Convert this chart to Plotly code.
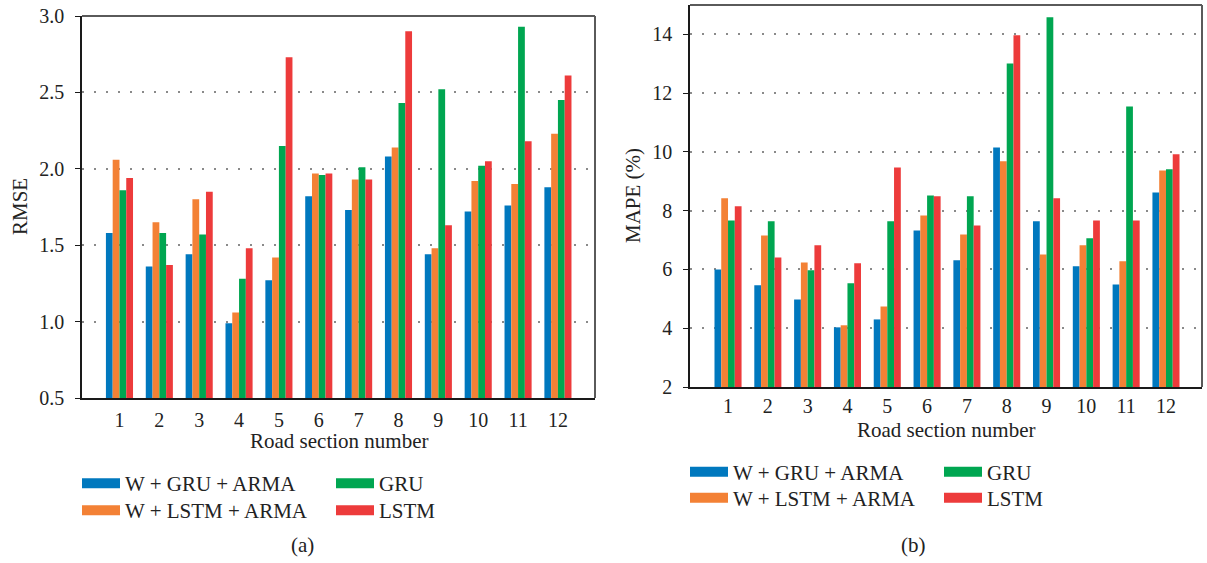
import plotly.graph_objects as go

W, H = 1207, 563

roads = [str(i) for i in range(1, 13)]
series_names = ["W + GRU + ARMA", "W + LSTM + ARMA", "GRU", "LSTM"]
colors = ["#0078be", "#f38135", "#00a651", "#ed3b3b"]

rmse_w_gru_arma = [1.58, 1.36, 1.44, 0.99, 1.27, 1.82, 1.73, 2.08, 1.44, 1.72, 1.76, 1.88]
rmse_w_lstm_arma = [2.06, 1.65, 1.80, 1.06, 1.42, 1.97, 1.93, 2.14, 1.48, 1.92, 1.90, 2.23]
rmse_gru = [1.86, 1.58, 1.57, 1.28, 2.15, 1.96, 2.01, 2.43, 2.52, 2.02, 2.93, 2.45]
rmse_lstm = [1.94, 1.37, 1.85, 1.48, 2.73, 1.97, 1.93, 2.90, 1.63, 2.05, 2.18, 2.61]

mape_w_gru_arma = [6.00, 5.46, 4.98, 4.03, 4.30, 7.33, 6.31, 10.15, 7.64, 6.11, 5.49, 8.62]
mape_w_lstm_arma = [8.42, 7.16, 6.24, 4.10, 4.74, 7.84, 7.19, 9.68, 6.51, 6.82, 6.28, 9.37]
mape_gru = [7.67, 7.64, 5.97, 5.53, 7.64, 8.52, 8.49, 13.01, 14.58, 7.06, 11.55, 9.41]
mape_lstm = [8.15, 6.41, 6.82, 6.21, 9.47, 8.49, 7.50, 13.97, 8.42, 7.67, 7.67, 9.92]

rmse = [rmse_w_gru_arma, rmse_w_lstm_arma, rmse_gru, rmse_lstm]
mape = [mape_w_gru_arma, mape_w_lstm_arma, mape_gru, mape_lstm]

rmse_ticks = [0.5, 1.0, 1.5, 2.0, 2.5, 3.0]
mape_ticks = [2, 4, 6, 8, 10, 12, 14]

FONT = "Liberation Serif, DejaVu Serif, serif"
TEXT = "#222222"


def px(x):
    return x / W


def py(y):
    return 1 - y / H


fig = go.Figure()

for name, col, vals in zip(series_names, colors, rmse):
    fig.add_trace(go.Bar(x=roads, y=vals, name=name, marker=dict(color=col, line=dict(width=0)),
                         xaxis="x", yaxis="y", showlegend=False))
for name, col, vals in zip(series_names, colors, mape):
    fig.add_trace(go.Bar(x=roads, y=vals, name=name, marker=dict(color=col, line=dict(width=0)),
                         xaxis="x2", yaxis="y2", showlegend=False))

# legend keys: one legend per row, two entries per row, for each panel
legend_rows = {
    "legend": [0, 2], "legend2": [1, 3],
    "legend3": [0, 2], "legend4": [1, 3],
}
for lg, idxs in legend_rows.items():
    for i in idxs:
        fig.add_trace(go.Scatter(x=[None], y=[None], mode="lines", name=series_names[i],
                                 line=dict(color=colors[i], width=10), legend=lg,
                                 xaxis="x", yaxis="y", showlegend=True))

axis_common = dict(showline=True, linecolor="#1a1a1a", linewidth=1.5, automargin=False,
                   tickfont=dict(family=FONT, size=20, color=TEXT), fixedrange=True)

fig.update_layout(
    width=W, height=H,
    margin=dict(l=0, r=0, t=0, b=0, autoexpand=False),
    paper_bgcolor="white", plot_bgcolor="white",
    barmode="group", bargap=0.32, bargroupgap=0,
    font=dict(family=FONT, color=TEXT),
    xaxis=dict(domain=[px(82), px(595)], anchor="y", type="category", range=[-0.94, 11.93],
               ticks="", showgrid=False, ticklabelstandoff=3, **axis_common),
    yaxis=dict(domain=[py(398), py(16)], anchor="x", range=[0.5, 3.0], tickvals=rmse_ticks,
               ticktext=[f"{v:.1f}" for v in rmse_ticks],
               ticks="outside", ticklen=5, tickcolor="#1a1a1a", ticklabelstandoff=7,
               showgrid=True, gridcolor="#8a8a8a", gridwidth=1.5, griddash="2px,10px",
               zeroline=False, **axis_common),
    xaxis2=dict(domain=[px(690), px(1202)], anchor="y2", type="category", range=[-0.955, 11.905],
                ticks="", showgrid=False, ticklabelstandoff=0, **axis_common),
    yaxis2=dict(domain=[py(387), py(5)], anchor="x2", range=[2, 15], tickvals=mape_ticks,
                ticks="outside", ticklen=5, tickcolor="#1a1a1a", ticklabelstandoff=7,
                showgrid=True, gridcolor="#8a8a8a", gridwidth=1.5, griddash="2px,10px",
                zeroline=False, **axis_common),
)

leg_common = dict(orientation="h", xanchor="left", yanchor="middle", bgcolor="rgba(0,0,0,0)",
                  entrywidth=201, entrywidthmode="pixels", itemwidth=38,
                  font=dict(family=FONT, size=21, color=TEXT), itemclick=False,
                  itemdoubleclick=False)
fig.update_layout(
    legend=dict(x=px(77), y=py(483.5), **leg_common),
    legend2=dict(x=px(77), y=py(510.5), **leg_common),
    legend3=dict(x=px(685), y=py(472), **leg_common),
    legend4=dict(x=px(685), y=py(498), **leg_common),
)

# grey top and right frame edges
for xr, yr in (("x domain", "y domain"), ("x2 domain", "y2 domain")):
    fig.add_shape(type="line", xref=xr, yref=yr, x0=0, x1=1, y0=1, y1=1,
                  line=dict(color="#5a5a5a", width=2))
    fig.add_shape(type="line", xref=xr, yref=yr, x0=1, x1=1, y0=0, y1=1,
                  line=dict(color="#5a5a5a", width=2))

texts = [
    ("RMSE", 20, 207, -90),
    ("MAPE (%)", 633, 196, -90),
    ("Road section number", 339, 441, 0),
    ("Road section number", 946, 430, 0),
    ("(a)", 302, 545, 0),
    ("(b)", 913, 545, 0),
]
for t, x, y, ang in texts:
    fig.add_annotation(text=t, x=px(x), y=py(y), xref="paper", yref="paper",
                       showarrow=False, textangle=ang, xanchor="center", yanchor="middle",
                       font=dict(family=FONT, size=21, color=TEXT))

fig.write_html("out.html")
